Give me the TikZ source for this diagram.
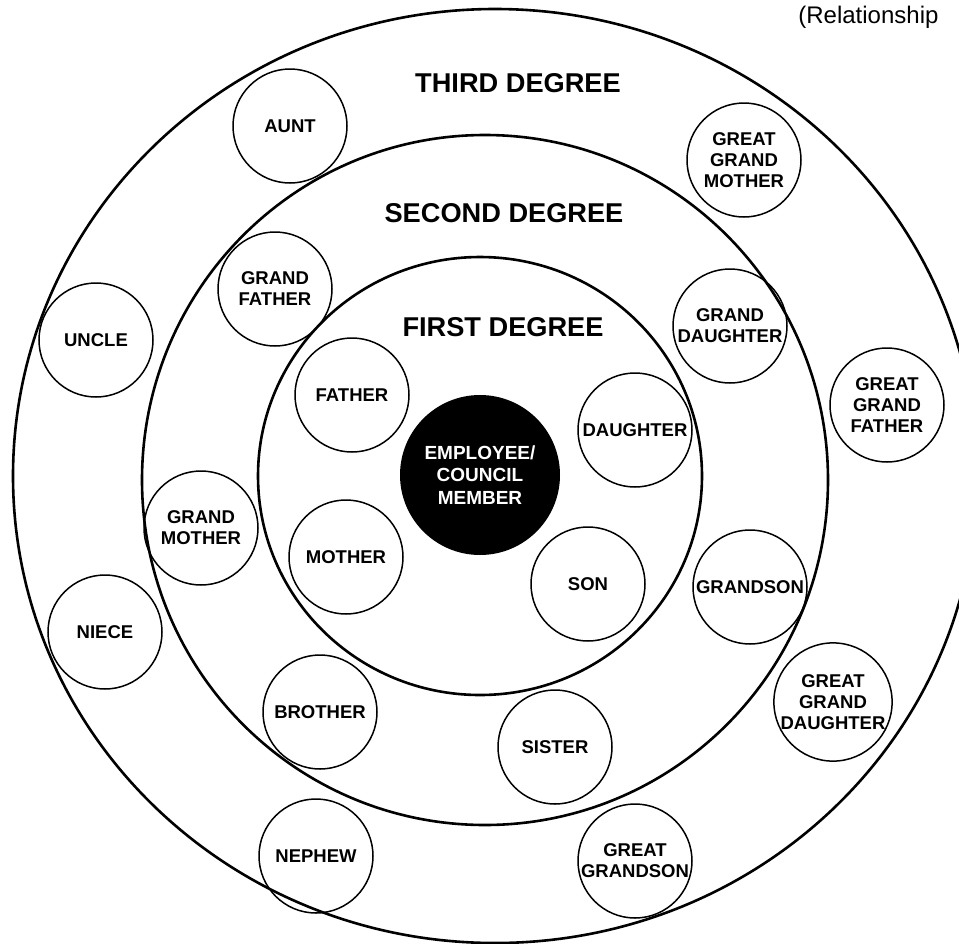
\documentclass[tikz,border=0pt]{standalone}
\usepackage{fontspec}
\setmainfont{Liberation Sans}
\begin{document}
\begin{tikzpicture}[x=0.5pt,y=-0.5pt,
  ring/.style={line width=1.3pt},
  member/.style={circle, draw, line width=0.75pt, minimum size=57pt, inner sep=0pt, align=center,
    font=\bfseries\fontsize{9.25}{10.5}\selectfont},
  degree/.style={inner sep=0pt, font=\bfseries\fontsize{13.6}{16}\selectfont}]
\useasboundingbox (0,0) rectangle (959,943);
\clip (0,0) rectangle (959,943);
% rings
\draw[ring] (495,476) ellipse [x radius=241pt, y radius=233.5pt];
\draw[ring] (485,480) ellipse [x radius=171.5pt, y radius=172.5pt];
\draw[ring] (480,476) ellipse [x radius=111pt, y radius=109.5pt];
% labels
\node[anchor=west, inner sep=0pt, font=\fontsize{12}{14}\selectfont] (rel) at (798,17) {(Relationship};
\node[degree] (third) at (518,83) {THIRD DEGREE};
\node[degree] (second) at (504,213) {SECOND DEGREE};
\node[degree] (first) at (503,327) {FIRST DEGREE};
% centre
\node[circle, fill=black, minimum size=80pt, inner sep=0pt, align=center, text=white,
  font=\bfseries\fontsize{9.5}{11.25}\selectfont] (emp) at (480,475) {EMPLOYEE/\\COUNCIL\\MEMBER};
% first degree
\node[member] (father) at (352,395) {FATHER};
\node[member] (mother) at (346,557) {MOTHER};
\node[member] (daughter) at (635,430) {DAUGHTER};
\node[member] (son) at (588,584) {SON};
% second degree
\node[member] (gfather) at (275,289) {GRAND\\FATHER};
\node[member] (gmother) at (201,528) {GRAND\\MOTHER};
\node[member] (gdaughter) at (730,326) {GRAND\\DAUGHTER};
\node[member] (gson) at (750,587) {GRANDSON};
\node[member] (brother) at (320,712) {BROTHER};
\node[member] (sister) at (555,747) {SISTER};
% third degree
\node[member] (aunt) at (290,126) {AUNT};
\node[member] (uncle) at (96,340) {UNCLE};
\node[member] (niece) at (105,632) {NIECE};
\node[member] (nephew) at (316,856) {NEPHEW};
\node[member] (ggmother) at (744,160) {GREAT\\GRAND\\MOTHER};
\node[member] (ggfather) at (887,405) {GREAT\\GRAND\\FATHER};
\node[member] (ggdaughter) at (833,702) {GREAT\\GRAND\\DAUGHTER};
\node[member] (ggson) at (635,861) {GREAT\\GRANDSON};
\end{tikzpicture}
\end{document}
